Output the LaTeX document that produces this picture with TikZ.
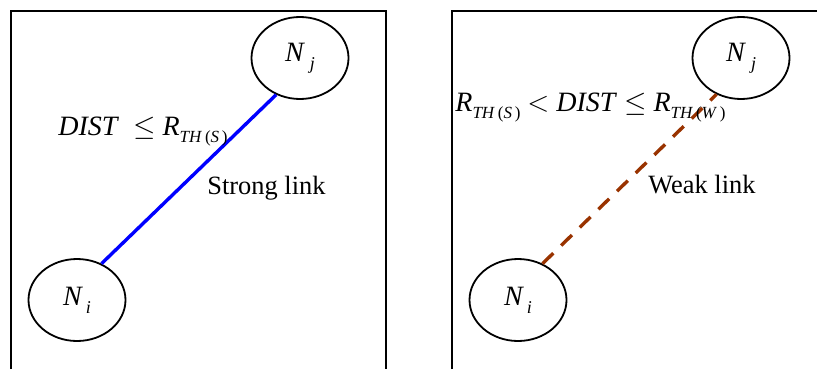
\documentclass[tikz,border=0pt]{standalone}
\usepackage{fontspec}
\setmainfont{Liberation Serif}
\usetikzlibrary{shapes.geometric}
\definecolor{strongblue}{RGB}{0,0,255}
\definecolor{weakbrown}{RGB}{153,51,0}
\newcommand{\mv}[1]{\textit{#1}}
\newcommand{\lowsub}[1]{\raisebox{-4pt}{\fontsize{9}{10}\selectfont\mv{#1}}}
\newcommand{\thr}[1]{\mv{R}\raisebox{-3.5pt}{\fontsize{8.5}{9}\selectfont\mv{TH}\,(\mv{#1}\,)}}
\tikzset{
    link diagram/.style = {x=0.5pt, y=-0.5pt},
    frame/.style        = {line width=0.8pt},
    sensor/.style       = {draw, ellipse, line width=0.9pt, inner sep=0pt,
                           minimum width=48.5pt, minimum height=41pt,
                           font=\fontsize{14}{16}\selectfont},
    strong/.style       = {strongblue, line width=1.7pt},
    weak/.style         = {weakbrown, line width=1.7pt,
                           dash pattern=on 7.5pt off 5.5pt},
    cond/.style         = {anchor=base west, inner sep=0pt,
                           font=\fontsize{14}{16}\selectfont},
    tag/.style          = {anchor=base west, inner sep=0pt,
                           font=\fontsize{13.2}{16}\selectfont}
}

\begin{document}
\begin{tikzpicture}[link diagram]

\useasboundingbox (0,0) rectangle (817,369);

% Frames
\draw[frame] (11,369) -- (11,11) -- (386,11) -- (386,369);
\draw[frame] (452,369) -- (452,11) -- (817,11);

% Strong link
\node[sensor] (NiS) at (77,300) {\mv{N}\kern1.5pt\lowsub{i}};
\node[sensor] (NjS) at (300,58) {\mv{N}\kern2.5pt\lowsub{j}};
\draw[strong] (NiS.56) -- (NjS.237);
\node[cond] (distS) at (58,135) {\mv{DIST}\ \ $\le$ \thr{S}};
\node[tag] (strongtag) at (207,194) {Strong link};

% Weak link
\node[sensor] (NiW) at (518,300) {\mv{N}\kern1.5pt\lowsub{i}};
\node[sensor] (NjW) at (741,58) {\mv{N}\kern2.5pt\lowsub{j}};
\draw[weak] (NiW.56) -- (NjW.236);
\node[cond] (distW) at (455,112) {\thr{S} $<$ \mv{DIST}\ $\le$ \thr{W}};
\node[tag] (weaktag) at (648,193) {Weak link};

\end{tikzpicture}
\end{document}
